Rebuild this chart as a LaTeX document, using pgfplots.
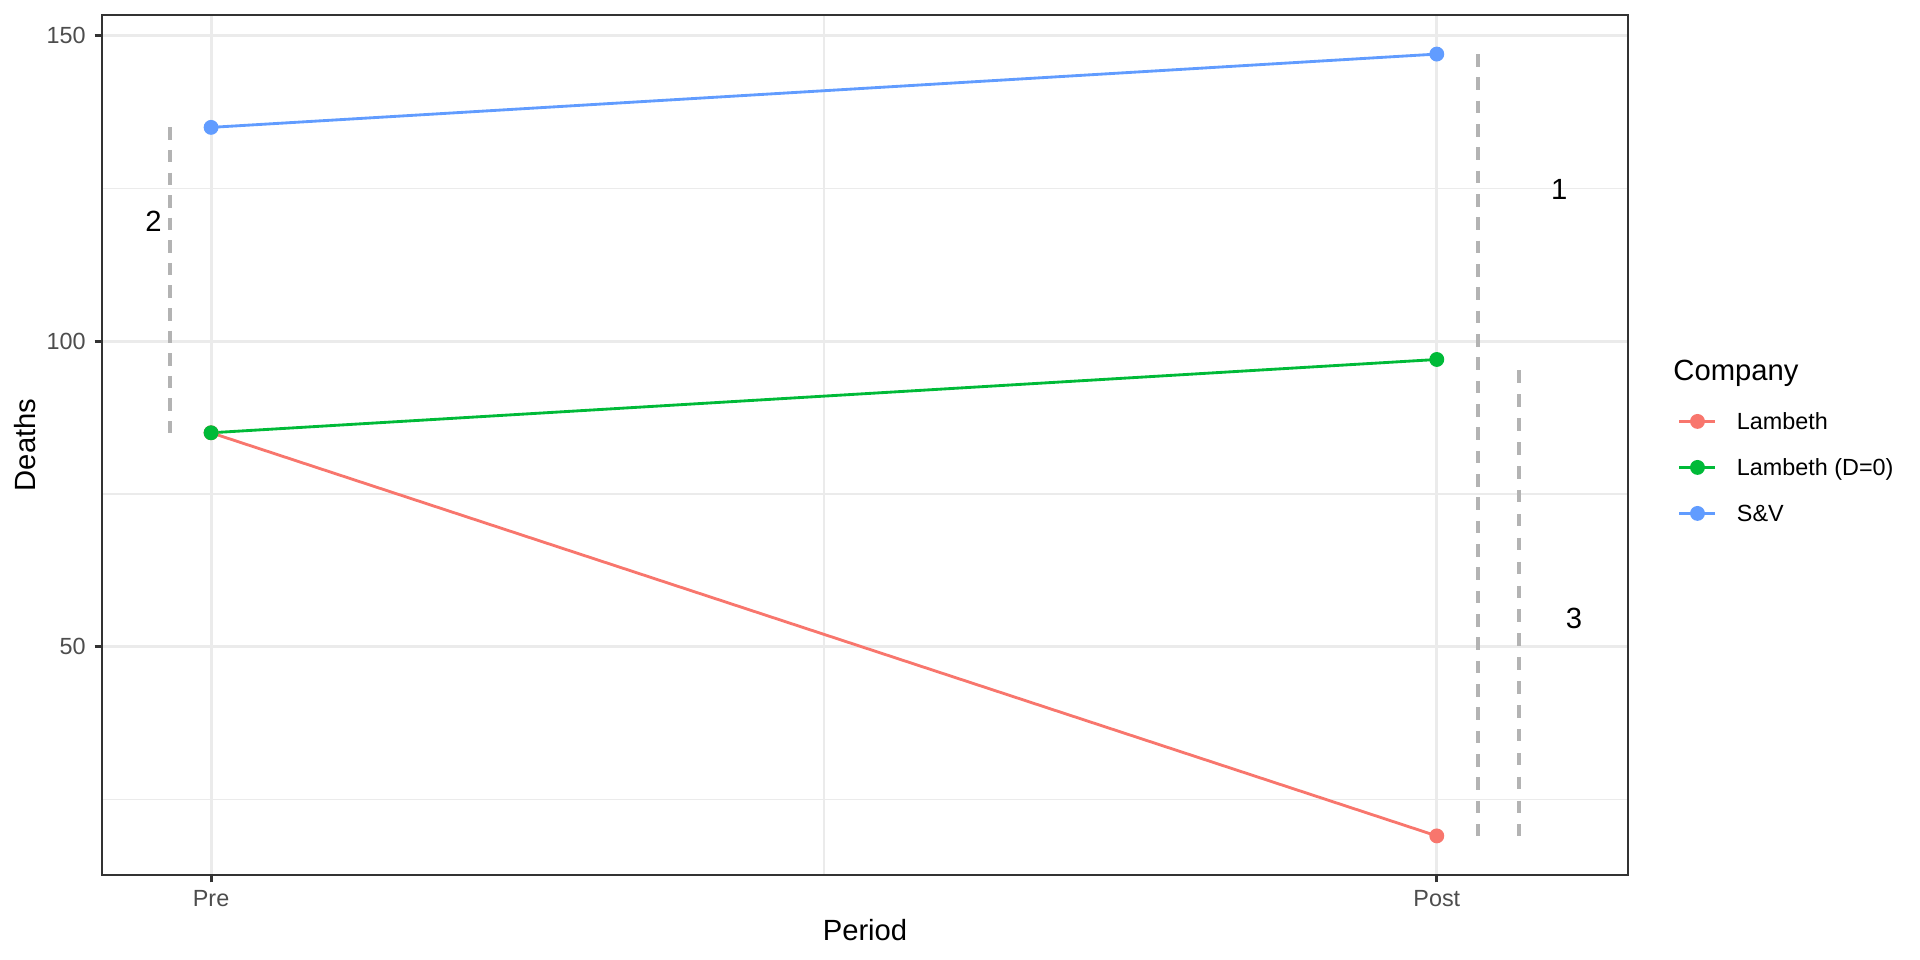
\documentclass[border=0pt]{standalone}
\usepackage{pgfplots}
\pgfplotsset{compat=1.18}
\usepackage{fontspec}
\setmainfont{Liberation Sans}
\definecolor{cred}{HTML}{F8766D}
\definecolor{cgreen}{HTML}{00BA38}
\definecolor{cblue}{HTML}{619CFF}
\definecolor{grid92}{HTML}{EBEBEB}
\definecolor{gray20}{HTML}{333333}
\definecolor{gray30}{HTML}{4D4D4D}
\definecolor{dashgray}{HTML}{B3B3B3}
\begin{document}
\begin{tikzpicture}
\path[use as bounding box] (-38.25bp,-31.875bp) rectangle (681.75bp,328.125bp);
\begin{axis}[
  name=ax,
  at={(0,0)}, anchor=south west,
  scale only axis,
  width=572.25bp, height=322.5bp,
  xmin=0.911, xmax=2.156, ymin=12.6, ymax=153.4,
  xtick={1,2}, xticklabels={Pre,Post},
  ytick={50,100,150},
  minor xtick={1.5}, minor ytick={25,75,125},
  grid=both,
  major grid style={color=grid92, line width=1.07pt},
  minor grid style={color=grid92, line width=0.53pt},
  axis line style={color=gray20, line width=0.8bp},
  tick style={color=gray20, line width=1.07pt},
  major tick length=2.75pt, minor tick length=0pt,
  tick align=outside,
  xtick pos=bottom, ytick pos=left,
  /pgf/number format/assume math mode=true,
  ticklabel style={font=\fontsize{8.8}{10}\selectfont, color=gray30},
  yticklabel style={inner sep=0pt, anchor=east, xshift=-3.2bp},
  xticklabel style={inner sep=0pt, anchor=north, text height=6.3bp, yshift=-2.7bp},
  xlabel={Period},
  label style={font=\fontsize{11}{13}\selectfont},
  xlabel style={at={(axis description cs:0.5,0)}, anchor=base, yshift=-24.4bp},
  legend cell align=left,
  legend style={draw=none, fill=none, inner sep=0pt, outer sep=0pt,
    at={(axis description cs:1.0328,0.5372)}, anchor=north west,
    row sep=10.95bp, column sep=7.5bp,
    font=\fontsize{8.8}{10}\selectfont,
    nodes={inner sep=0pt, text height=6.3bp, text depth=0pt}},
  legend image code/.code={\draw[mark repeat=2,mark phase=2,#1] plot coordinates {(0bp,0bp) (6.75bp,0bp) (13.5bp,0bp)};},
]
\addplot[forget plot, dashgray, line width=1.5bp, dash pattern=on 4.7bp off 3.77bp] coordinates {(0.9667,135) (0.9667,85)};
\addplot[forget plot, dashgray, line width=1.5bp, dash pattern=on 4.7bp off 4.05bp] coordinates {(2.0333,147) (2.0333,19)};
\addplot[forget plot, dashgray, line width=1.5bp, dash pattern=on 4.7bp off 4.26bp] coordinates {(2.0667,95.2) (2.0667,19)};
\addplot[cred, line width=1.07pt, mark=*, mark size=2.25bp, mark options={solid}] coordinates {(1,85) (2,19)};
\addlegendentry{Lambeth}
\addplot[cgreen, line width=1.07pt, mark=*, mark size=2.25bp, mark options={solid}] coordinates {(1,85) (2,97)};
\addlegendentry{Lambeth (D=0)}
\addplot[cblue, line width=1.07pt, mark=*, mark size=2.25bp, mark options={solid}] coordinates {(1,135) (2,147)};
\addlegendentry{S\&V}
\node[font=\fontsize{11}{13}\selectfont] at (axis cs:0.953,119.6) {2};
\node[font=\fontsize{11}{13}\selectfont] at (axis cs:2.1,124.9) {1};
\node[font=\fontsize{11}{13}\selectfont] at (axis cs:2.112,54.6) {3};
\end{axis}
\node[anchor=base, rotate=90, inner sep=0pt, font=\fontsize{11}{13}\selectfont] at ([xshift=-25.1bp]ax.west) {Deaths};
\node[anchor=base west, inner sep=0pt, font=\fontsize{11}{13}\selectfont] at ([xshift=589.1bp,yshift=185.6bp]ax.south west) {Company};
\end{tikzpicture}
\end{document}
